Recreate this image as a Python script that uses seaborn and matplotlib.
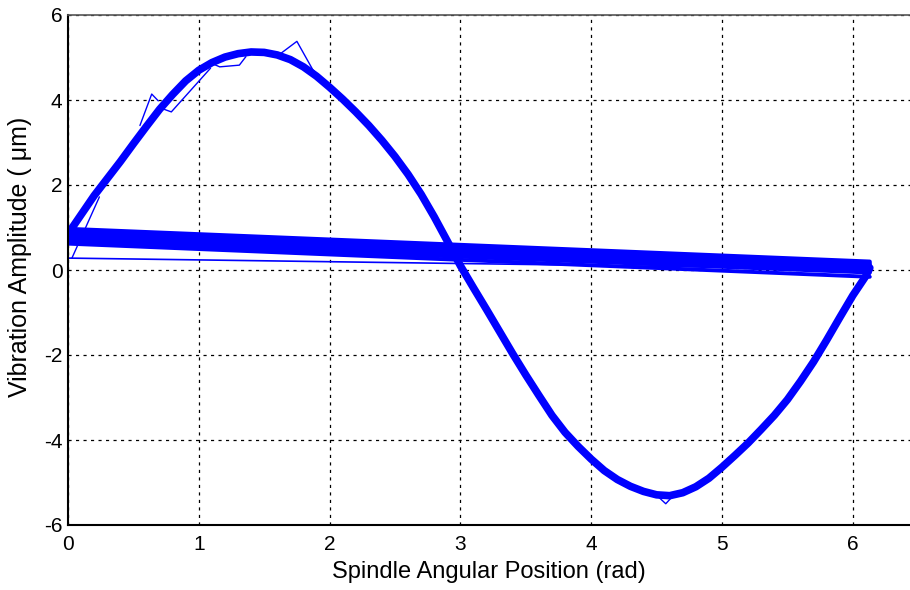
import numpy as np
import pandas as pd
import matplotlib
matplotlib.use("Agg")
import matplotlib.pyplot as plt
import seaborn as sns

# main (averaged) trace
curve_x = [0.0, 0.1, 0.2, 0.3, 0.4, 0.5, 0.6, 0.7, 0.8, 0.9,
           1.0, 1.1, 1.2, 1.3, 1.4, 1.5, 1.6, 1.7, 1.8, 1.9,
           2.0, 2.1, 2.2, 2.3, 2.4, 2.5, 2.6, 2.7, 2.8, 2.9,
           3.0, 3.1, 3.2, 3.3, 3.4, 3.5, 3.6, 3.7, 3.8, 3.9,
           4.0, 4.1, 4.2, 4.3, 4.4, 4.5, 4.6, 4.7, 4.8, 4.9,
           5.0, 5.1, 5.2, 5.3, 5.4, 5.5, 5.6, 5.7, 5.8, 5.9,
           6.0, 6.1, 6.13]
curve_y = [0.85, 1.30, 1.75, 2.15, 2.55, 2.97, 3.38, 3.78, 4.13, 4.45,
           4.70, 4.88, 5.01, 5.09, 5.13, 5.12, 5.06, 4.95, 4.78, 4.56,
           4.30, 4.02, 3.72, 3.40, 3.05, 2.67, 2.25, 1.78, 1.25, 0.68,
           0.10, -0.42, -0.93, -1.45, -1.97, -2.47, -2.95, -3.42, -3.82, -4.15,
           -4.45, -4.72, -4.93, -5.09, -5.21, -5.29, -5.31, -5.24, -5.10, -4.90,
           -4.64, -4.36, -4.07, -3.75, -3.42, -3.05, -2.62, -2.16, -1.65, -1.12,
           -0.60, -0.14, 0.05]

# flyback lines from the end of each revolution back to the start
flyback_start = [0.97, 0.94, 0.91, 0.88, 0.85, 0.82, 0.79, 0.76, 0.73, 0.70, 0.67, 0.62, 0.28]
flyback_end = [0.20, 0.17, 0.14, 0.12, 0.10, 0.08, 0.05, 0.03, 0.01, -0.02, -0.06, -0.16, 0.02]
flyback_x0 = 0.0
flyback_x1 = 6.13
flyback_width = [2.8] * 12 + [1.2]

# thin outlier traces
glitch_a_x = [0.55, 0.64, 0.69]
glitch_a_y = [3.40, 4.14, 3.98]
glitch_b_x = [0.70, 0.79, 1.09]
glitch_b_y = [3.82, 3.72, 4.75]
glitch_c_x = [1.10, 1.16, 1.31, 1.36]
glitch_c_y = [4.86, 4.78, 4.82, 5.02]
glitch_d_x = [1.62, 1.75, 1.87, 1.92]
glitch_d_y = [5.08, 5.38, 4.72, 4.55]
glitch_e_x = [4.50, 4.57, 4.63]
glitch_e_y = [-5.30, -5.50, -5.30]
glitch_f_x = [0.03, 0.24]
glitch_f_y = [0.28, 1.72]

blue = "#0000ff"

sns.set_style("white")
plt.rcParams["font.family"] = ["Liberation Sans", "DejaVu Sans"]
plt.rcParams["axes.unicode_minus"] = False
plt.rcParams["text.color"] = "black"
plt.rcParams["axes.labelcolor"] = "black"

fig = plt.figure(figsize=(9.1, 5.9), dpi=100)
ax = fig.add_axes([68 / 910, 65 / 590, 842 / 910, 510 / 590])

for y0, y1, w in zip(flyback_start, flyback_end, flyback_width):
    fly = pd.DataFrame({"x": [flyback_x1, flyback_x0], "y": [y1, y0]})
    sns.lineplot(data=fly, x="x", y="y", sort=False, estimator=None,
                 color=blue, lw=w, ax=ax)

sns.lineplot(x=curve_x, y=curve_y, sort=False, estimator=None, color=blue,
             lw=5.5, ax=ax, solid_capstyle="round", solid_joinstyle="round")

for gx, gy in [(glitch_a_x, glitch_a_y), (glitch_b_x, glitch_b_y),
               (glitch_c_x, glitch_c_y), (glitch_d_x, glitch_d_y),
               (glitch_e_x, glitch_e_y), (glitch_f_x, glitch_f_y)]:
    sns.lineplot(x=gx, y=gy, sort=False, estimator=None, color=blue, lw=1, ax=ax)

ax.set_xlim(0, 842 / 130.8)
ax.set_ylim(-6, 6)
ax.set_xticks(range(0, 7))
ax.set_yticks(range(-6, 7, 2))
ax.grid(True, color="black", linestyle=(0, (2.5, 3.5)), lw=0.9)
ax.set_axisbelow(True)
ax.tick_params(direction="in", length=5, width=1, labelsize=15, colors="black")
ax.tick_params(axis="x", pad=7)
ax.tick_params(axis="y", pad=4)
for side in ["left", "bottom"]:
    ax.spines[side].set_color("black")
    ax.spines[side].set_linewidth(1.5)
ax.spines["top"].set_color("#555555")
ax.spines["top"].set_linewidth(1.2)
ax.spines["right"].set_visible(False)

ax.set_xlabel("Spindle Angular Position (rad)", fontsize=17)
ax.set_ylabel("Vibration Amplitude ( \u03bcm)", fontsize=18)
ax.xaxis.set_label_coords(0.5, (525 - 561) / 510)
ax.yaxis.set_label_coords((32 - 68) / 842, (525 - 257) / 510)

fig.savefig("out.png", dpi=100)
